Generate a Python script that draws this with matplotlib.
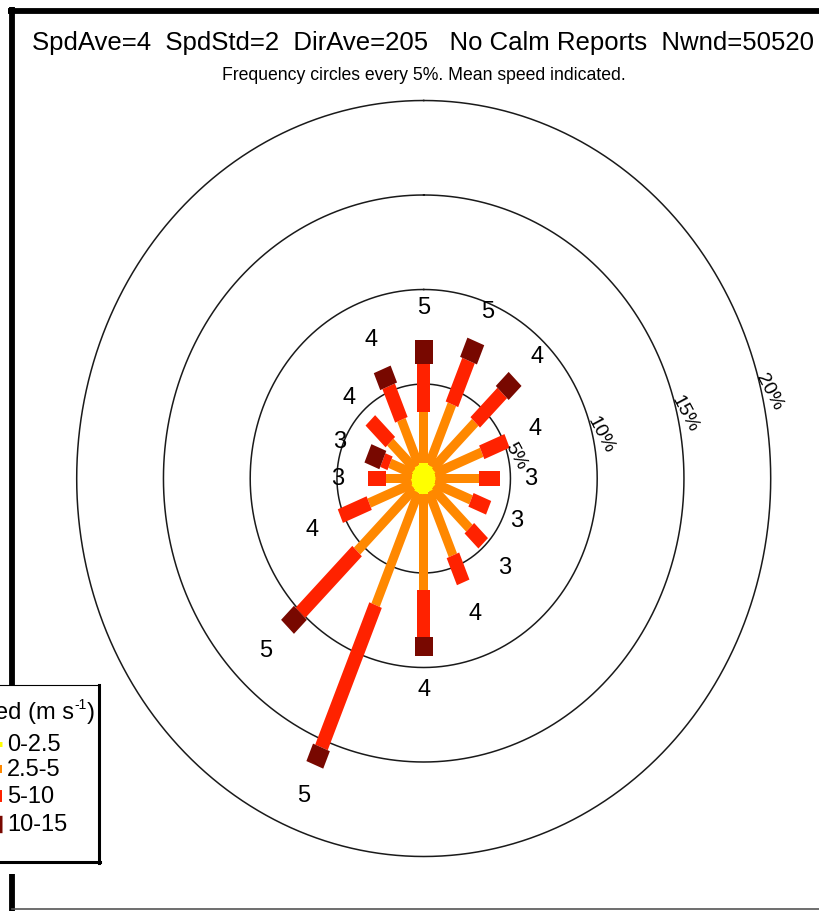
import numpy as np
import matplotlib
matplotlib.use("Agg")
import matplotlib.pyplot as plt
from matplotlib.patches import Polygon, Rectangle
import matplotlib.transforms as mtransforms

plt.rcParams['font.family'] = ['Liberation Sans', 'DejaVu Sans']

# ---- data -----------------------------------------------------------
# direction the wind blows from (degrees clockwise from north)
directions = [0, 22.5, 45, 67.5, 90, 112.5, 135, 157.5,
              180, 202.5, 225, 247.5, 270, 292.5, 315, 337.5]
# frequency (%) of each speed class per direction
freq_0_25 = [0.80, 0.75, 0.70, 0.65, 0.65, 0.65, 0.70, 0.75,
             0.80, 0.80, 0.75, 0.70, 0.65, 0.65, 0.70, 0.75]
freq_25_5 = [2.70, 3.50, 3.50, 2.97, 2.55, 2.30, 3.02, 3.65,
             5.08, 6.45, 4.68, 2.70, 1.52, 1.45, 2.02, 2.61]
freq_5_10 = [2.56, 2.50, 2.20, 1.58, 1.20, 1.10, 1.13, 1.55,
             2.52, 8.15, 4.62, 1.80, 1.02, 0.45, 1.63, 1.92]
freq_10_15 = [1.27, 1.10, 1.05, 0.00, 0.00, 0.00, 0.00, 0.00,
              1.01, 1.00, 1.05, 0.00, 0.00, 0.93, 0.00, 0.97]
# mean speed (m/s) per direction
mean_speed = [5, 5, 4, 4, 3, 3, 3, 4, 4, 5, 5, 4, 3, 3, 4, 4]

speed_bins = ["0-2.5", "2.5-5", "5-10", "10-15"]
bin_colors = ["#ffff00", "#ff8800", "#ff2200", "#780800"]
ring_levels = [5, 10, 15, 20]

title_text = "SpdAve=4  SpdStd=2  DirAve=205   No Calm Reports  Nwnd=50520"
subtitle_text = "Frequency circles every 5%. Mean speed indicated."
legend_title = ["Speed (m s", "-1", ")"]

# ---- figure / coordinate frames --------------------------------------
W, H = 819, 912
fig = plt.figure(figsize=(W / 100, H / 100), dpi=100)
ax = fig.add_axes([0, 0, 1, 1])
cx, cy = 423.7, 479.5          # rose centre in pixels
sx, sy = 17.35, 18.9           # pixels per percent (x, y)
ax.set_xlim(-cx / sx, (W - cx) / sx)
ax.set_ylim(-(H - cy) / sy, cy / sy)
ax.axis('off')

# pixel coordinates, origin top-left
pix = mtransforms.Affine2D().scale(1 / W, -1 / H).translate(0, 1) + fig.transFigure

# ---- frequency circles ----------------------------------------------
t = np.linspace(0, 2 * np.pi, 721)
for lev in ring_levels:
    ax.plot(lev * np.sin(t), lev * np.cos(t), color="#1a1a1a", lw=1.1, zorder=1)
    a = np.deg2rad(77)
    rr = lev + 0.45
    ax.text(rr * np.sin(a), rr * np.cos(a), f"{lev}%", fontsize=14,
            rotation=-62, ha='center', va='center', rotation_mode='anchor',
            zorder=6)

# ---- spokes -----------------------------------------------------------
bin_widths = [0.50, 0.52, 0.78, 1.05]
bin_z = [5, 2, 3, 4]


def spoke_segment(theta_deg, r0, r1, w, color, z):
    th = np.deg2rad(theta_deg)
    u = np.array([np.sin(th), np.cos(th)])
    n = np.array([np.cos(th), -np.sin(th)])
    pts = [r0 * u + w / 2 * n, r1 * u + w / 2 * n,
           r1 * u - w / 2 * n, r0 * u - w / 2 * n]
    ax.add_patch(Polygon(pts, closed=True, facecolor=color,
                         edgecolor='none', zorder=z))


freqs = np.array([freq_0_25, freq_25_5, freq_5_10, freq_10_15])
cum = np.cumsum(freqs, axis=0)
for i, d in enumerate(directions):
    r0 = 0.0
    for k in range(4):
        r1 = cum[k, i]
        if freqs[k, i] > 0:
            spoke_segment(d, r0, r1, bin_widths[k], bin_colors[k], bin_z[k])
        r0 = r1
    rl = cum[-1, i] + 1.75
    th = np.deg2rad(d)
    ax.text(rl * np.sin(th), rl * np.cos(th), str(mean_speed[i]),
            fontsize=17, ha='center', va='center', zorder=6)

# ---- titles -------------------------------------------------------------
ax.text(423.5, 43, title_text, transform=pix, fontsize=18.5,
        ha='center', va='center')
ax.text(423.5, 76, subtitle_text, transform=pix, fontsize=12.7,
        ha='center', va='center')

# ---- frame ----------------------------------------------------------------
ax.plot([8, W], [12, 12], transform=pix, color='black', lw=4.2,
        solid_capstyle='butt', clip_on=False)
ax.plot([12, 12], [8, 686], transform=pix, color='black', lw=4.2,
        solid_capstyle='butt', clip_on=False)
ax.plot([12, 12], [875, H], transform=pix, color='black', lw=4.2,
        solid_capstyle='butt', clip_on=False)
ax.plot([12, W], [910, 910], transform=pix, color='#555555', lw=1.2,
        clip_on=False)

# ---- legend -----------------------------------------------------------------
ax.add_patch(Rectangle((-30, 686), 129, 177, transform=pix, facecolor='white',
                       edgecolor='black', lw=0.8, zorder=7, clip_on=False))
ax.plot([99, 99], [686, 864], transform=pix, color='black', lw=2.2,
        zorder=8, clip_on=False)
ax.plot([-30, 100], [863, 863], transform=pix, color='black', lw=2.2,
        zorder=8, clip_on=False)

# legend title built right to left: ")" then superscript "-1" then the rest
renderer = fig.canvas.get_renderer()
x_right = 95.0
t_close = ax.text(x_right, 713, legend_title[2], transform=pix, fontsize=17,
                  ha='right', va='center', zorder=9)
bb = t_close.get_window_extent(renderer)
x_right -= bb.width + 0.5
t_sup = ax.text(x_right, 705, legend_title[1], transform=pix, fontsize=10,
                ha='right', va='center', zorder=9)
bb = t_sup.get_window_extent(renderer)
x_right -= bb.width + 0.5
ax.text(x_right, 713, legend_title[0], transform=pix, fontsize=17,
        ha='right', va='center', zorder=9)

item_y = [745, 770, 797, 825]
marker_lw = [3.6, 5.8, 8.6, 12.5]
for k in range(4):
    ax.plot([-10, 2], [item_y[k], item_y[k]], transform=pix,
            color=bin_colors[k], lw=marker_lw[k], solid_capstyle='butt',
            zorder=9, clip_on=False)
    ax.text(7, item_y[k], speed_bins[k], transform=pix, fontsize=17,
            ha='left', va='center', zorder=9)

fig.savefig("out.png", dpi=100)
